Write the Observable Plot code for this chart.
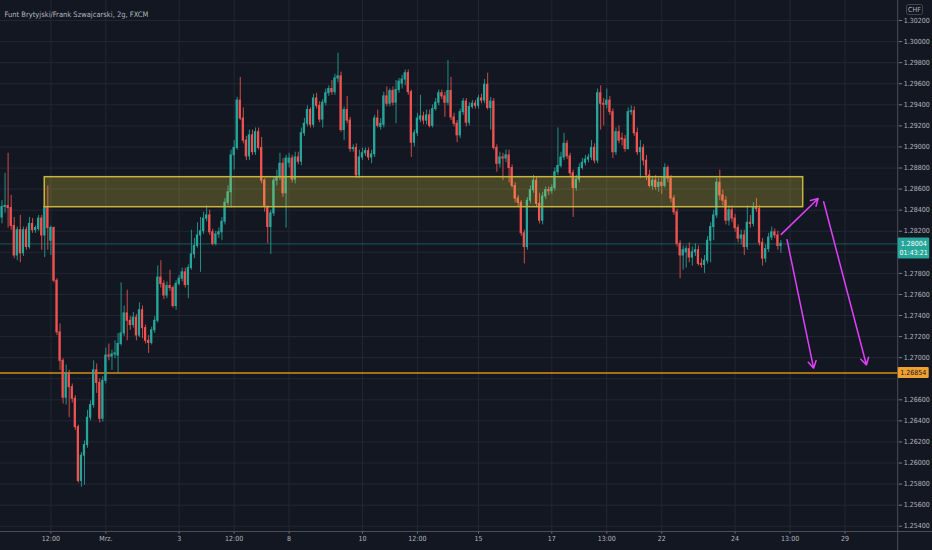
<!DOCTYPE html>
<html><head><meta charset="utf-8">
<script src="https://cdn.jsdelivr.net/npm/d3@7"></script>
<script src="https://cdn.jsdelivr.net/npm/@observablehq/plot@0.6"></script>
<style>
html,body{margin:0;padding:0;background:#131722;}
#chart svg{display:block;}
</style></head><body><div id="chart"></div>
<script>
// GBP/CHF 2h candles (bar index 0..255)
const opens=[
1.2833,1.2843,1.2844,1.2842,1.2825,1.2797,1.2821,1.2799,1.2821,1.2805,1.2827,1.2821,1.2822,1.2832,1.2816,1.2843,
1.2811,1.2823,1.2773,1.2724,1.2697,1.2662,1.2685,1.2672,1.2661,1.2634,1.2583,1.2607,1.2617,1.2643,1.2655,1.2688,
1.2676,1.2642,1.2678,1.2702,1.2701,1.2703,1.2702,1.2713,1.2723,1.2742,1.2735,1.2731,1.2738,1.2721,1.2745,1.2728,
1.2716,1.2714,1.2726,1.2735,1.2776,1.2770,1.2759,1.2768,1.2766,1.2749,1.2770,1.2775,1.2781,1.2769,1.2785,1.2798,
1.2806,1.2816,1.2820,1.2832,1.2835,1.2819,1.2808,1.2817,1.2819,1.2829,1.2847,1.2857,1.2892,1.2899,1.2944,1.2927,
1.2906,1.2891,1.2911,1.2895,1.2914,1.2899,1.2868,1.2843,1.2824,1.2837,1.2868,1.2871,1.2884,1.2856,1.2885,1.2889,
1.2869,1.2890,1.2886,1.2913,1.2922,1.2935,1.2921,1.2946,1.2939,1.2926,1.2942,1.2951,1.2955,1.2952,1.2965,1.2967,
1.2916,1.2935,1.2925,1.2898,1.2899,1.2873,1.2890,1.2894,1.2896,1.2890,1.2893,1.2927,1.2919,1.2921,1.2948,1.2941,
1.2953,1.2942,1.2954,1.2960,1.2964,1.2970,1.2952,1.2904,1.2913,1.2926,1.2929,1.2925,1.2930,1.2920,1.2936,1.2942,
1.2951,1.2948,1.2942,1.2953,1.2928,1.2922,1.2911,1.2933,1.2943,1.2923,1.2938,1.2941,1.2939,1.2946,1.2944,1.2959,
1.2937,1.2943,1.2899,1.2884,1.2890,1.2889,1.2892,1.2880,1.2863,1.2851,1.2847,1.2818,1.2805,1.2849,1.2859,1.2868,
1.2846,1.2830,1.2853,1.2859,1.2858,1.2861,1.2876,1.2882,1.2890,1.2903,1.2891,1.2875,1.2861,1.2869,1.2880,1.2885,
1.2888,1.2890,1.2899,1.2887,1.2951,1.2941,1.2940,1.2944,1.2933,1.2895,1.2914,1.2908,1.2907,1.2898,1.2933,1.2934,
1.2913,1.2895,1.2899,1.2887,1.2873,1.2863,1.2868,1.2862,1.2866,1.2863,1.2880,1.2870,1.2851,1.2838,1.2808,1.2797,
1.2800,1.2803,1.2795,1.2800,1.2802,1.2789,1.2788,1.2792,1.2811,1.2824,1.2835,1.2866,1.2854,1.2849,1.2830,1.2840,
1.2832,1.2823,1.2813,1.2816,1.2805,1.2828,1.2827,1.2842,1.2841,1.2809,1.2794,1.2803,1.2814,1.2819,1.2816,1.2806];
const highs=[
1.2849,1.2875,1.2894,1.2854,1.2833,1.2824,1.2835,1.2824,1.2824,1.2833,1.2832,1.2825,1.2835,1.2835,1.2844,1.2863,
1.2825,1.2824,1.2775,1.2732,1.2699,1.2693,1.2688,1.2675,1.2664,1.2636,1.2610,1.2621,1.2650,1.2659,1.2697,1.2694,
1.2680,1.2682,1.2709,1.2713,1.2707,1.2716,1.2723,1.2771,1.2749,1.2764,1.2739,1.2743,1.2741,1.2752,1.2749,1.2731,
1.2721,1.2729,1.2739,1.2787,1.2792,1.2773,1.2772,1.2783,1.2768,1.2773,1.2778,1.2785,1.2785,1.2788,1.2821,1.2813,
1.2828,1.2833,1.2838,1.2844,1.2840,1.2822,1.2820,1.2823,1.2833,1.2851,1.2863,1.2897,1.2906,1.2947,1.2966,1.2937,
1.2910,1.2916,1.2916,1.2918,1.2918,1.2909,1.2870,1.2844,1.2840,1.2872,1.2878,1.2894,1.2889,1.2892,1.2894,1.2892,
1.2895,1.2895,1.2918,1.2927,1.2939,1.2937,1.2950,1.2951,1.2943,1.2945,1.2955,1.2958,1.2963,1.2969,1.2989,1.2971,
1.2938,1.2948,1.2928,1.2902,1.2903,1.2897,1.2899,1.2899,1.2899,1.2897,1.2930,1.2935,1.2927,1.2952,1.2957,1.2955,
1.2957,1.2963,1.2965,1.2968,1.2973,1.2973,1.2954,1.2916,1.2932,1.2949,1.2933,1.2935,1.2935,1.2940,1.2946,1.2954,
1.2954,1.2952,1.2982,1.2966,1.2932,1.2925,1.2936,1.2946,1.2946,1.2942,1.2944,1.2944,1.2949,1.2950,1.2964,1.2970,
1.2947,1.2946,1.2902,1.2895,1.2894,1.2897,1.2897,1.2883,1.2866,1.2854,1.2849,1.2821,1.2852,1.2863,1.2873,1.2872,
1.2856,1.2857,1.2862,1.2862,1.2864,1.2880,1.2918,1.2895,1.2913,1.2906,1.2894,1.2878,1.2873,1.2884,1.2889,1.2892,
1.2893,1.2906,1.2903,1.2955,1.2958,1.2946,1.2955,1.2948,1.2936,1.2918,1.2920,1.2913,1.2911,1.2937,1.2939,1.2938,
1.2918,1.2906,1.2902,1.2892,1.2878,1.2872,1.2873,1.2870,1.2872,1.2884,1.2882,1.2873,1.2854,1.2841,1.2811,1.2806,
1.2806,1.2809,1.2805,1.2808,1.2806,1.2794,1.2797,1.2815,1.2828,1.2840,1.2870,1.2878,1.2859,1.2853,1.2844,1.2844,
1.2836,1.2826,1.2821,1.2821,1.2844,1.2835,1.2847,1.2851,1.2844,1.2813,1.2807,1.2818,1.2824,1.2822,1.2820,1.2811];
const lows=[
1.2827,1.2837,1.2823,1.2821,1.2794,1.2792,1.2790,1.2796,1.2802,1.2803,1.2818,1.2818,1.2820,1.2802,1.2795,1.2802,
1.2797,1.2771,1.2721,1.2688,1.2656,1.2655,1.2643,1.2657,1.2631,1.2581,1.2577,1.2579,1.2614,1.2640,1.2652,1.2666,
1.2638,1.2639,1.2675,1.2697,1.2688,1.2699,1.2685,1.2711,1.2720,1.2716,1.2726,1.2728,1.2716,1.2719,1.2718,1.2713,
1.2704,1.2712,1.2723,1.2733,1.2766,1.2755,1.2756,1.2763,1.2747,1.2745,1.2768,1.2772,1.2766,1.2756,1.2783,1.2794,
1.2804,1.2781,1.2817,1.2829,1.2816,1.2806,1.2806,1.2813,1.2811,1.2826,1.2844,1.2842,1.2878,1.2897,1.2925,1.2903,
1.2887,1.2887,1.2892,1.2892,1.2897,1.2865,1.2838,1.2808,1.2798,1.2834,1.2863,1.2868,1.2852,1.2823,1.2880,1.2866,
1.2865,1.2883,1.2882,1.2910,1.2919,1.2918,1.2918,1.2936,1.2923,1.2918,1.2939,1.2948,1.2949,1.2949,1.2961,1.2914,
1.2906,1.2922,1.2895,1.2895,1.2870,1.2870,1.2887,1.2891,1.2887,1.2884,1.2890,1.2918,1.2916,1.2918,1.2938,1.2938,
1.2939,1.2922,1.2951,1.2955,1.2958,1.2949,1.2890,1.2900,1.2910,1.2923,1.2921,1.2921,1.2918,1.2918,1.2934,1.2939,
1.2945,1.2928,1.2939,1.2925,1.2919,1.2904,1.2908,1.2930,1.2919,1.2920,1.2936,1.2936,1.2936,1.2941,1.2941,1.2935,
1.2916,1.2897,1.2876,1.2880,1.2868,1.2885,1.2866,1.2861,1.2847,1.2843,1.2815,1.2789,1.2802,1.2846,1.2856,1.2843,
1.2827,1.2826,1.2850,1.2854,1.2855,1.2858,1.2873,1.2880,1.2887,1.2888,1.2872,1.2833,1.2858,1.2866,1.2878,1.2882,
1.2885,1.2887,1.2884,1.2884,1.2916,1.2920,1.2936,1.2930,1.2889,1.2892,1.2903,1.2901,1.2895,1.2897,1.2930,1.2910,
1.2892,1.2870,1.2882,1.2868,1.2861,1.2859,1.2859,1.2857,1.2855,1.2861,1.2866,1.2847,1.2835,1.2805,1.2775,1.2783,
1.2785,1.2790,1.2787,1.2796,1.2787,1.2785,1.2780,1.2789,1.2790,1.2811,1.2832,1.2849,1.2844,1.2826,1.2825,1.2828,
1.2819,1.2809,1.2807,1.2797,1.2802,1.2823,1.2824,1.2838,1.2806,1.2787,1.2790,1.2800,1.2811,1.2813,1.2802,1.2799];
const closes=[
1.2843,1.2844,1.2842,1.2825,1.2797,1.2821,1.2799,1.2821,1.2805,1.2827,1.2821,1.2823,1.2832,1.2816,1.2843,1.2823,
1.2823,1.2773,1.2724,1.2697,1.2662,1.2685,1.2672,1.2661,1.2634,1.2583,1.2607,1.2617,1.2643,1.2655,1.2688,1.2676,
1.2642,1.2678,1.2702,1.2701,1.2703,1.2704,1.2713,1.2723,1.2742,1.2735,1.2731,1.2738,1.2721,1.2745,1.2728,1.2716,
1.2714,1.2726,1.2735,1.2776,1.2770,1.2759,1.2768,1.2766,1.2749,1.2770,1.2775,1.2781,1.2769,1.2785,1.2798,1.2806,
1.2816,1.2820,1.2832,1.2835,1.2819,1.2808,1.2817,1.2819,1.2829,1.2847,1.2857,1.2892,1.2899,1.2944,1.2927,1.2906,
1.2891,1.2911,1.2895,1.2914,1.2899,1.2868,1.2843,1.2824,1.2837,1.2868,1.2871,1.2884,1.2856,1.2889,1.2889,1.2869,
1.2890,1.2886,1.2913,1.2922,1.2935,1.2921,1.2946,1.2939,1.2926,1.2942,1.2951,1.2955,1.2952,1.2965,1.2967,1.2916,
1.2935,1.2925,1.2898,1.2899,1.2873,1.2890,1.2894,1.2896,1.2890,1.2893,1.2927,1.2920,1.2922,1.2948,1.2941,1.2953,
1.2942,1.2954,1.2962,1.2964,1.2970,1.2952,1.2904,1.2913,1.2927,1.2929,1.2925,1.2930,1.2920,1.2936,1.2942,1.2951,
1.2948,1.2942,1.2953,1.2928,1.2922,1.2911,1.2933,1.2943,1.2923,1.2938,1.2941,1.2939,1.2946,1.2944,1.2959,1.2937,
1.2943,1.2899,1.2884,1.2890,1.2889,1.2892,1.2880,1.2863,1.2851,1.2847,1.2818,1.2805,1.2849,1.2859,1.2868,1.2846,
1.2830,1.2853,1.2859,1.2858,1.2861,1.2876,1.2882,1.2890,1.2903,1.2891,1.2875,1.2861,1.2869,1.2880,1.2885,1.2888,
1.2890,1.2899,1.2887,1.2951,1.2941,1.2940,1.2944,1.2933,1.2895,1.2914,1.2906,1.2907,1.2898,1.2933,1.2934,1.2913,
1.2895,1.2899,1.2887,1.2873,1.2863,1.2868,1.2862,1.2866,1.2863,1.2880,1.2870,1.2851,1.2838,1.2808,1.2797,1.2802,
1.2803,1.2795,1.2800,1.2802,1.2789,1.2788,1.2792,1.2811,1.2824,1.2835,1.2866,1.2854,1.2849,1.2830,1.2840,1.2832,
1.2823,1.2813,1.2816,1.2805,1.2828,1.2827,1.2842,1.2841,1.2809,1.2794,1.2803,1.2814,1.2819,1.2816,1.2806,1.2808];

const xTickIdx=[16,34,58,76,94,118,136,156,180,198,216,240,258,276];
const xTickLabels=["12:00","Mrz.","3","12:00","8","10","12:00","15","17","13:00","22","24","13:00","29"];
const yTicks=[1.254,1.256,1.258,1.260,1.262,1.264,1.266,1.268,1.270,1.272,1.274,1.276,1.278,1.280,1.282,1.284,1.286,1.288,1.290,1.292,1.294,1.296,1.298,1.300,1.302];
// tick labels hidden behind the price badges in the reference
const hiddenTicks=[1.268,1.280];

const title="Funt Brytyjski/Frank Szwajcarski, 2g, FXCM";
const currency="CHF";
const zone=[{x1:14,x2:262.3,y1:1.28428,y2:1.28713}];
const supportLevel=1.26854;
const supportLabel="1.26854";
const lastLabel="1.28004";
const countdown="01:43:21";
const arrowsData=[
  {x1:255.1,y1:1.2817,x2:267.2,y2:1.2851},
  {x1:257.0,y1:1.2812,x2:265.7,y2:1.2690},
  {x1:269.0,y1:1.2848,x2:283.0,y2:1.2693}
];

const FONT='"Liberation Sans Narrow","DejaVu Sans Condensed","Liberation Sans",sans-serif';
const UP="#26a69a", DOWN="#ef5350";
const candles=closes.map((c,i)=>({i,o:opens[i],h:highs[i],l:lows[i],c}));
const col=d=>d.c>=d.o?UP:DOWN;
const labelMap=new Map(xTickIdx.map((d,i)=>[d,xTickLabels[i]]));
const lastClose=closes[closes.length-1];
const labelTicks=yTicks.filter(t=>!hiddenTicks.some(h=>Math.abs(h-t)<1e-9));

const chart=Plot.plot({
  width:932,height:550,marginLeft:0,marginRight:34.3,marginTop:0,marginBottom:19,
  style:{background:"#131722",fontFamily:FONT,fontSize:"7px",color:"#b2b5be"},
  x:{domain:[-0.49,293.4],axis:null},
  y:{domain:[1.2535,1.3039],axis:null},
  marks:[
    Plot.gridY({ticks:yTicks,stroke:"#232734",strokeOpacity:1}),
    Plot.gridX({ticks:xTickIdx,stroke:"#232734",strokeOpacity:1}),
    Plot.ruleY([supportLevel],{stroke:"#d98c12",strokeWidth:1.5}),
    Plot.ruleY([lastClose],{stroke:UP,strokeOpacity:0.45}),
    Plot.ruleX(candles,{x:"i",y1:"l",y2:"h",stroke:col,strokeWidth:1,strokeOpacity:0.85}),
    Plot.rect(candles,{x1:d=>d.i-0.37,x2:d=>d.i+0.37,y1:d=>Math.min(d.o,d.c),y2:d=>Math.max(d.o,d.c),fill:col,insetTop:-0.5,insetBottom:-0.5}),
    Plot.rect(zone,{x1:"x1",x2:"x2",y1:"y1",y2:"y2",fill:"#ffeb3b",fillOpacity:0.22,stroke:"#c8b53a",strokeWidth:1.5}),
    Plot.arrow(arrowsData,{x1:"x1",y1:"y1",x2:"x2",y2:"y2",stroke:"#e040fb",strokeWidth:1.5,headLength:8}),
    Plot.axisY({ticks:labelTicks,anchor:"right",tickSize:3.5,tickPadding:2,tickFormat:d=>d.toFixed(5),stroke:"#787b86",fill:"#b2b5be",fontSize:7}),
    Plot.axisX({ticks:xTickIdx,anchor:"bottom",tickSize:2.5,tickPadding:2.5,tickFormat:d=>labelMap.get(d),stroke:"#787b86",fill:"#b2b5be",fontSize:7}),
    Plot.text([title],{frameAnchor:"top-left",dx:4,dy:11,textAnchor:"start",fill:"#b2b5be",fontSize:7.5})
  ]
});
document.getElementById("chart").appendChild(chart);

// chrome: axis borders and price labels positioned with Plot's scales
const svg=d3.select(chart);
const xs=chart.scale("x"), ys=chart.scale("y");
const axX=xs.apply(293.4), axY=ys.apply(1.2535);
const g=svg.append("g").attr("font-family",FONT).attr("font-size",7);
g.append("line").attr("x1",0).attr("x2",932).attr("y1",axY+0.5).attr("y2",axY+0.5).attr("stroke","#4a4e5a");
g.append("line").attr("x1",axX).attr("x2",axX).attr("y1",0).attr("y2",550).attr("stroke","#4a4e5a");
// last price label
const ly=ys.apply(lastClose);
g.append("rect").attr("x",axX).attr("y",ly-6).attr("width",31.5).attr("height",21).attr("fill",UP).attr("rx",1);
g.append("text").attr("x",axX+16).attr("y",ly+2.5).attr("text-anchor","middle").attr("fill","#ffffff").text(lastLabel);
g.append("text").attr("x",axX+16).attr("y",ly+12).attr("text-anchor","middle").attr("fill","#ffffff").text(countdown);
// support label
const sy=ys.apply(supportLevel);
g.append("rect").attr("x",axX).attr("y",sy-5.5).attr("width",31).attr("height",11).attr("fill","#f0a030").attr("rx",1);
g.append("text").attr("x",axX+15.5).attr("y",sy+2.5).attr("text-anchor","middle").attr("fill","#131722").text(supportLabel);
// currency badge
g.append("rect").attr("x",906.5).attr("y",4.5).attr("width",16).attr("height",10).attr("fill","none").attr("stroke","#434651").attr("rx",2);
g.append("text").attr("x",914.5).attr("y",12).attr("text-anchor","middle").attr("fill","#b2b5be").text(currency);
</script></body></html>
